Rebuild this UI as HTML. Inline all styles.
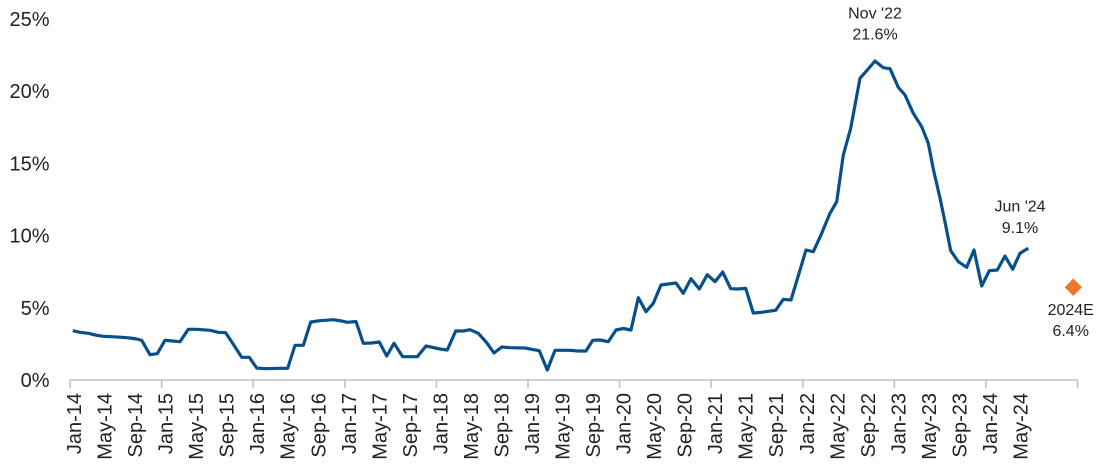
<!DOCTYPE html>
<html>
<head>
<meta charset="utf-8">
<style>
html,body{margin:0;padding:0;background:#fff;}
svg{display:block;}
text{font-family:"Liberation Sans",Arial,sans-serif;fill:#222;}
</style>
</head>
<body>
<svg width="1100" height="473" viewBox="0 0 1100 473" xmlns="http://www.w3.org/2000/svg">
  <!-- Y axis labels -->
  <g font-size="20" text-anchor="end">
    <text x="49.5" y="26">25%</text>
    <text x="49.5" y="98.2">20%</text>
    <text x="49.5" y="170.4">15%</text>
    <text x="49.5" y="242.6">10%</text>
    <text x="49.5" y="314.8">5%</text>
    <text x="49.5" y="387">0%</text>
  </g>

  <!-- X axis -->
  <g stroke="#c3c3c3" stroke-width="1.6" fill="none">
    <line x1="70" y1="380" x2="1077.6" y2="380"/>
    <line x1="70" y1="380" x2="70" y2="388"/>
    <line x1="161.6" y1="380" x2="161.6" y2="388"/>
    <line x1="253.2" y1="380" x2="253.2" y2="388"/>
    <line x1="344.8" y1="380" x2="344.8" y2="388"/>
    <line x1="436.4" y1="380" x2="436.4" y2="388"/>
    <line x1="528" y1="380" x2="528" y2="388"/>
    <line x1="619.6" y1="380" x2="619.6" y2="388"/>
    <line x1="711.2" y1="380" x2="711.2" y2="388"/>
    <line x1="802.8" y1="380" x2="802.8" y2="388"/>
    <line x1="894.4" y1="380" x2="894.4" y2="388"/>
    <line x1="986" y1="380" x2="986" y2="388"/>
    <line x1="1077.6" y1="380" x2="1077.6" y2="388"/>
  </g>

  <!-- X axis labels -->
  <g font-size="20" text-anchor="end">
    <text transform="translate(81,393) rotate(-90)">Jan-14</text>
    <text transform="translate(111.5,393) rotate(-90)">May-14</text>
    <text transform="translate(142.1,393) rotate(-90)">Sep-14</text>
    <text transform="translate(172.6,393) rotate(-90)">Jan-15</text>
    <text transform="translate(203.1,393) rotate(-90)">May-15</text>
    <text transform="translate(233.7,393) rotate(-90)">Sep-15</text>
    <text transform="translate(264.2,393) rotate(-90)">Jan-16</text>
    <text transform="translate(294.7,393) rotate(-90)">May-16</text>
    <text transform="translate(325.3,393) rotate(-90)">Sep-16</text>
    <text transform="translate(355.8,393) rotate(-90)">Jan-17</text>
    <text transform="translate(386.3,393) rotate(-90)">May-17</text>
    <text transform="translate(416.9,393) rotate(-90)">Sep-17</text>
    <text transform="translate(447.4,393) rotate(-90)">Jan-18</text>
    <text transform="translate(477.9,393) rotate(-90)">May-18</text>
    <text transform="translate(508.4,393) rotate(-90)">Sep-18</text>
    <text transform="translate(539,393) rotate(-90)">Jan-19</text>
    <text transform="translate(569.5,393) rotate(-90)">May-19</text>
    <text transform="translate(600,393) rotate(-90)">Sep-19</text>
    <text transform="translate(630.6,393) rotate(-90)">Jan-20</text>
    <text transform="translate(661.1,393) rotate(-90)">May-20</text>
    <text transform="translate(691.6,393) rotate(-90)">Sep-20</text>
    <text transform="translate(722.2,393) rotate(-90)">Jan-21</text>
    <text transform="translate(752.7,393) rotate(-90)">May-21</text>
    <text transform="translate(783.2,393) rotate(-90)">Sep-21</text>
    <text transform="translate(813.8,393) rotate(-90)">Jan-22</text>
    <text transform="translate(844.3,393) rotate(-90)">May-22</text>
    <text transform="translate(874.8,393) rotate(-90)">Sep-22</text>
    <text transform="translate(905.4,393) rotate(-90)">Jan-23</text>
    <text transform="translate(935.9,393) rotate(-90)">May-23</text>
    <text transform="translate(966.4,393) rotate(-90)">Sep-23</text>
    <text transform="translate(997,393) rotate(-90)">Jan-24</text>
    <text transform="translate(1027.5,393) rotate(-90)">May-24</text>
  </g>

  <!-- Series line -->
  <polyline fill="none" stroke="#07508b" stroke-width="3.2" stroke-linejoin="round" stroke-linecap="butt"
    points="72.7,330.7 80,332.3 88.3,333.3 96.7,335.3 103.3,336.3 111.7,336.7 121.7,337.3 130,338 136.7,339 141.7,340.3 150,354.7 157.3,353.7 165,340.3 172.7,341 180,341.7 188.3,329.3 196.7,329.3 210,330.3 218.3,332.3 225.7,332.7 233.3,344.3 241.7,357.3 249.3,357.3 256.7,368 265,368.7 280,368.3 287.7,368.3 295,345.3 303.3,345.3 310.7,322 320,320.7 333.3,319.7 341.7,321 347.3,322.3 356,321.5 363.3,343.3 371.7,343 379.3,342 386.7,356 394,343.3 402.7,356.7 417.3,356.7 426,346 440,349 447.3,350 455.7,331 463.3,331 470,329.7 478.3,333.3 486.7,342.7 494,353 501.7,347 510,347.7 525,348 531.7,349.3 539.3,350.7 547.3,370 555,350.3 570,350.3 578.3,351 586,351 592.7,340.3 600,340 608.3,341.7 616,330 623.3,328.5 631,330 638.3,297.7 646,311.7 653.3,303.3 661,285 668.3,284 676,283 683.3,293.3 691,278.7 699.3,289 707.3,274.7 715,281.7 722.7,272 730.7,288.7 738.3,289 745.7,288.3 753.3,313 761.7,312.3 768.3,311.3 775.7,310.3 783.3,299.3 791,300 806,250 813.3,251.7 821.7,233.3 830,213.3 836.7,201.7 843.3,155 850.7,128.3 860,78.3 867.3,70 875,61 883.3,67.7 890,68.7 898.3,87.3 905,95 913.3,113.3 921.7,126.7 928.3,143.3 933.5,170 940,198 945,222 950.7,250.7 958.3,261.7 966.7,267.3 974,250 981.7,286 989.3,270.7 997.3,270 1005,256 1012.7,269.3 1020,253.3 1028.3,248.3"/>

  <!-- 2024E diamond -->
  <polygon points="1073.3,278.5 1082,287.3 1073.3,296 1064.6,287.3" fill="#e8782a"/>

  <!-- Annotations -->
  <g font-size="16" text-anchor="middle">
    <text x="875" y="18.3">Nov '22</text>
    <text x="875" y="39.3">21.6%</text>
    <text x="1020" y="211.7">Jun '24</text>
    <text x="1020" y="233">9.1%</text>
    <text x="1070.7" y="315">2024E</text>
    <text x="1070.7" y="336">6.4%</text>
  </g>
</svg>
</body>
</html>
